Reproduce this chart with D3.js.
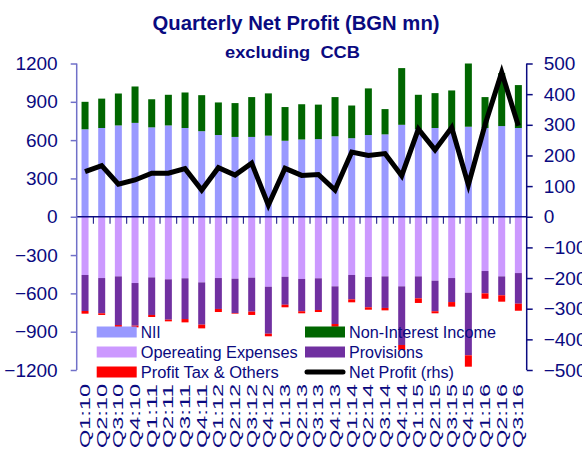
<!DOCTYPE html>
<html lang="en">
  <head>
    <meta charset="utf-8">
    <title>Quarterly Net Profit</title>
    <script src="https://d3js.org/d3.v7.min.js"></script>
    <style>
      body { margin: 0; background: #fff; }
      text { font-family: "Liberation Sans", Arial, sans-serif; fill: #0a0a80; }
    </style>
  </head>

  <body>
    <svg width="582" height="451"></svg>
    <script type="text/javascript">

        // quarters Q1:10 .. Q3:16
        var quarters = ["Q1:10","Q2:10","Q3:10","Q4:10","Q1:11","Q2:11","Q3:11","Q4:11",
                        "Q1:12","Q2:12","Q3:12","Q4:12","Q1:13","Q2:13","Q3:13","Q4:13",
                        "Q1:14","Q2:14","Q3:14","Q4:14","Q1:15","Q2:15","Q3:15","Q4:15",
                        "Q1:16","Q2:16","Q3:16"];

        // BGN mn, left axis
        var nii        = [685,695,715,735,700,715,695,670,640,625,625,635,595,605,608,630,615,640,645,720,685,695,680,705,695,710,695];
        var nonInt     = [215,230,250,285,220,240,278,282,255,265,312,331,264,276,270,307,256,365,198,444,270,273,309,560,242,415,336];
        var opex       = [456,480,467,519,475,490,482,514,480,485,477,548,470,487,482,545,456,472,467,545,467,501,480,595,425,467,441];
        var provisions = [282,276,381,334,294,316,319,331,242,269,266,368,219,253,248,295,191,237,247,459,172,239,188,490,175,148,240];
        var profitTax  = [21,13,15,13,16,13,26,29,24,5,26,20,20,16,16,21,23,19,19,39,36,16,36,89,42,50,55];

        // right axis (rhs)
        var netProfit  = [147,167,106,120,142,142,157,87,160,136,175,38,158,135,138,87,211,200,206,134,286,218,291,104,300,471,297];

        var leftTicks  = [-1200,-900,-600,-300,0,300,600,900,1200];
        var rightTicks = [-500,-400,-300,-200,-100,0,100,200,300,400,500];

        var svg = d3.select("svg");
        var x0 = 76.7, x1 = 526.7, yTop = 63.5, yBot = 370;

        var x = d3.scaleBand().domain(quarters).range([x0, x1]).paddingInner(0.58).paddingOuter(0.29);
        var y = d3.scaleLinear().domain([-1200, 1200]).range([yBot, yTop]);
        var yR = d3.scaleLinear().domain([-500, 500]).range([yBot, yTop]);

        svg.append("clipPath").attr("id", "plot")
          .append("rect").attr("x", x0).attr("y", yTop).attr("width", x1 - x0).attr("height", yBot - yTop);

        // stacked segments: [start, end] per quarter
        var segs = [];
        quarters.forEach(function(q, i) {
          var a = opex[i], b = a + provisions[i], c = b + profitTax[i];
          segs.push({q: q, lo: 0, hi: nii[i], c: "#9999ff"});
          segs.push({q: q, lo: nii[i], hi: nii[i] + nonInt[i], c: "#006600"});
          segs.push({q: q, lo: -a, hi: 0, c: "#cc99ff"});
          segs.push({q: q, lo: -b, hi: -a, c: "#7030a0"});
          segs.push({q: q, lo: -c, hi: -b, c: "#ff0000"});
        });

        svg.append("g").attr("clip-path", "url(#plot)")
          .selectAll("rect").data(segs).enter().append("rect")
          .attr("x", function(d) { return x(d.q); })
          .attr("width", x.bandwidth())
          .attr("y", function(d) { return y(d.hi); })
          .attr("height", function(d) { return y(d.lo) - y(d.hi); })
          .style("fill", function(d) { return d.c; });

        // zero line with category ticks
        var zero = svg.append("g").attr("transform", "translate(0," + y(0) + ")");
        zero.append("line").attr("x1", x0).attr("x2", x1).style("stroke", "#0a0a80").style("stroke-width", 1.5);
        zero.selectAll(".ct").data(d3.range(1, quarters.length)).enter().append("line")
          .attr("x1", function(d) { return x0 + d * x.step(); })
          .attr("x2", function(d) { return x0 + d * x.step(); })
          .attr("y1", 0).attr("y2", 7)
          .style("stroke", "#0a0a80");

        // left axis
        var left = svg.append("g").attr("transform", "translate(" + x0 + ",0)")
          .call(d3.axisLeft(y).tickValues(leftTicks).tickFormat(d3.format("d")).tickSize(6).tickPadding(13));
        left.select(".domain").attr("d", "M0," + yTop + "V" + yBot).style("stroke", "#7070c8").style("stroke-width", 1.5);
        left.selectAll(".tick line").style("stroke", "#7070c8").style("stroke-width", 1.5);
        left.selectAll("text").style("font-size", "19px").style("fill", "#0a0a80").attr("font-family", null);

        // right axis
        var right = svg.append("g").attr("transform", "translate(" + x1 + ",0)")
          .call(d3.axisRight(yR).tickValues(rightTicks).tickFormat(d3.format("d")).tickSize(6).tickPadding(11));
        right.select(".domain").attr("d", "M0," + yTop + "V" + yBot).style("stroke", "#0a0a80").style("stroke-width", 1.5);
        right.selectAll(".tick line").style("stroke", "#0a0a80").style("stroke-width", 1.5);
        right.selectAll("text").style("font-size", "19px").style("fill", "#0a0a80").attr("font-family", null);

        // net profit line
        var line = d3.line()
          .x(function(d, i) { return x(quarters[i]) + x.bandwidth() / 2; })
          .y(function(d) { return yR(d); });
        svg.append("path").datum(netProfit).attr("d", line)
          .style("fill", "none").style("stroke", "#000").style("stroke-width", 5)
          .style("stroke-linejoin", "miter");

        // quarter labels, rotated
        svg.selectAll(".ql").data(quarters).enter().append("text")
          .attr("transform", function(d) { return "translate(" + (x(d) + x.bandwidth() / 2 + 5) + ",448) rotate(-90)"; })
          .attr("textLength", 64).attr("lengthAdjust", "spacingAndGlyphs")
          .style("font-size", "14px")
          .text(function(d) { return d; });

        // titles
        svg.append("text").attr("x", 296).attr("y", 30).attr("text-anchor", "middle")
          .attr("textLength", 287).attr("lengthAdjust", "spacingAndGlyphs")
          .style("font-size", "20px").style("font-weight", "bold")
          .text("Quarterly Net Profit (BGN mn)");
        svg.append("text").attr("x", 292.5).attr("y", 57.5).attr("text-anchor", "middle")
          .attr("textLength", 135).attr("lengthAdjust", "spacingAndGlyphs")
          .style("font-size", "17px").style("font-weight", "bold")
          .style("white-space", "pre")
          .text("excluding  CCB");

        // legend
        var legend = [
          {t: "NII", c: "#9999ff", x: 96.7, y: 332, w: 20},
          {t: "Opereating Expenses", c: "#cc99ff", x: 96.7, y: 352, w: 157},
          {t: "Profit Tax & Others", c: "#ff0000", x: 96.7, y: 372, w: 138},
          {t: "Non-Interest Income", c: "#006600", x: 305, y: 332, w: 147},
          {t: "Provisions", c: "#7030a0", x: 305, y: 352, w: 74},
          {t: "Net Profit (rhs)", c: "#000", x: 305, y: 372, w: 105, line: true}
        ];
        var lg = svg.selectAll(".lg").data(legend).enter().append("g");
        lg.filter(function(d) { return !d.line; }).append("rect")
          .attr("x", function(d) { return d.x; }).attr("y", function(d) { return d.y - 5.5; })
          .attr("width", 40).attr("height", 11)
          .style("fill", function(d) { return d.c; });
        lg.filter(function(d) { return d.line; }).append("line")
          .attr("x1", function(d) { return d.x + 2; }).attr("x2", function(d) { return d.x + 38; })
          .attr("y1", function(d) { return d.y; }).attr("y2", function(d) { return d.y; })
          .style("stroke", "#000").style("stroke-width", 5).style("stroke-linecap", "round");
        lg.append("text")
          .attr("x", function(d) { return d.x + 44; })
          .attr("y", function(d) { return d.y + 6; })
          .attr("textLength", function(d) { return d.w; }).attr("lengthAdjust", "spacingAndGlyphs")
          .style("font-size", "16px")
          .text(function(d) { return d.t; });

    </script>
</body>
</html>
